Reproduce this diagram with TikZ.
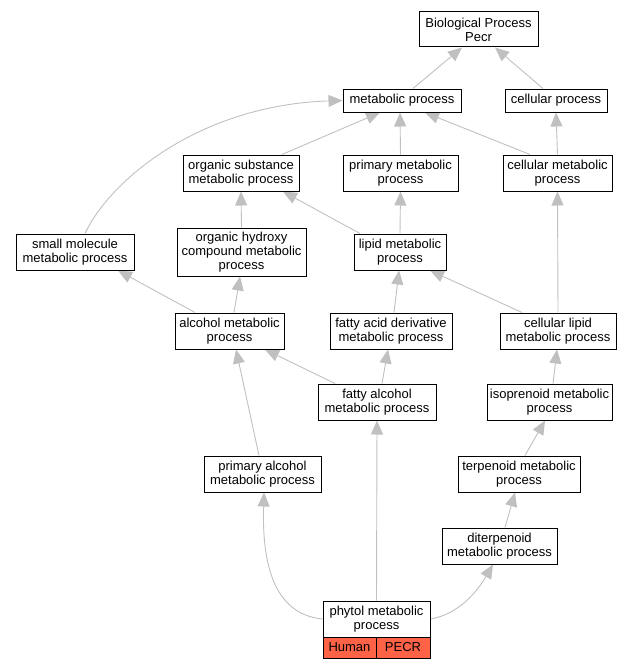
\documentclass[tikz,border=0pt]{standalone}
\usepackage{fontspec}
\setmainfont{Liberation Sans}
\usetikzlibrary{arrows.meta,backgrounds}
\definecolor{edgegray}{HTML}{C0C0C0}
\definecolor{hitred}{HTML}{FF6347}
\tikzset{
  gobox/.style={draw=black, line width=1pt, fill=white, align=center, inner sep=0pt,
    font=\fontsize{13}{14}\selectfont},
  cellbox/.style={draw=black, line width=1pt, fill=hitred, align=center, inner sep=0pt,
    font=\fontsize{13}{14}\selectfont, minimum height=21pt},
  edge/.style={draw=edgegray, line width=0.9pt, -{Triangle[length=14pt,width=12pt,fill=edgegray]}}
}
\begin{document}
\begin{tikzpicture}[x=1pt,y=-1pt]
\useasboundingbox (0,0) rectangle (632,669);
\node[gobox, minimum width=119pt, minimum height=35pt] (bp) at (478.5,29.5) {Biological Process\\Pecr};
\node[gobox, minimum width=118pt, minimum height=23pt] (metab) at (402,100.5) {metabolic process};
\node[gobox, minimum width=102pt, minimum height=23pt] (cellproc) at (556,100.5) {cellular process};
\node[gobox, minimum width=116pt, minimum height=36pt] (orgsub) at (241,173) {organic substance\\metabolic process};
\node[gobox, minimum width=115pt, minimum height=36pt] (primary) at (400.5,173) {primary metabolic\\process};
\node[gobox, minimum width=109pt, minimum height=36pt] (cellmeta) at (557.5,173) {cellular metabolic\\process};
\node[gobox, minimum width=118pt, minimum height=36pt] (small) at (75,252) {small molecule\\metabolic process};
\node[gobox, minimum width=129pt, minimum height=48pt] (orghyd) at (241.5,252) {organic hydroxy\\compound metabolic\\process};
\node[gobox, minimum width=92pt, minimum height=36pt] (lipid) at (400,252) {lipid metabolic\\process};
\node[gobox, minimum width=109pt, minimum height=36pt] (alcohol) at (229.5,331) {alcohol metabolic\\process};
\node[gobox, minimum width=122pt, minimum height=36pt] (fattyacid) at (391,331) {fatty acid derivative\\metabolic process};
\node[gobox, minimum width=116pt, minimum height=36pt] (cellipid) at (558,331) {cellular lipid\\metabolic process};
\node[gobox, minimum width=118pt, minimum height=36pt] (fattyalc) at (377,402) {fatty alcohol\\metabolic process};
\node[gobox, minimum width=125pt, minimum height=36pt] (isopren) at (549.5,402) {isoprenoid metabolic\\process};
\node[gobox, minimum width=117pt, minimum height=36pt] (primalc) at (262.5,474) {primary alcohol\\metabolic process};
\node[gobox, minimum width=122pt, minimum height=36pt] (terpen) at (519,474) {terpenoid metabolic\\process};
\node[gobox, minimum width=115pt, minimum height=36pt] (diterp) at (499.5,546) {diterpenoid\\metabolic process};
\node[gobox, minimum width=107pt, minimum height=36pt] (phytol) at (376.5,619) {phytol metabolic\\process};
\node[cellbox, minimum width=53pt] (human) at (349.5,647.5) {Human};
\node[cellbox, minimum width=54pt] (pecr) at (403,647.5) {PECR};
\begin{scope}[on background layer]
\draw[edge] ([xshift=11pt]metab.north) -- ([xshift=-16.5pt]bp.south);
\draw[edge] ([xshift=-13pt]cellproc.north) -- ([xshift=16.5pt]bp.south);
\draw[edge] ([xshift=41pt]orgsub.north) -- ([xshift=-22pt]metab.south);
\draw[edge] (primary.north) -- ([xshift=-2pt]metab.south);
\draw[edge] ([xshift=-27.5pt]cellmeta.north) -- ([xshift=23pt]metab.south);
\draw[edge] (cellmeta.north) -- (cellproc.south);
\draw[edge] ([xshift=10pt]small.north) .. controls (110,180) and (200,105) .. (metab.west);
\draw[edge] (orghyd.north) -- (orgsub.south);
\draw[edge] ([xshift=-40pt]lipid.north) -- ([xshift=42pt]orgsub.south);
\draw[edge] (lipid.north) -- (primary.south);
\draw[edge] ([xshift=-36pt]cellipid.north) -- ([xshift=30pt]lipid.south);
\draw[edge] (cellipid.north) -- (cellmeta.south);
\draw[edge] ([xshift=-34.5pt]alcohol.north) -- ([xshift=43pt]small.south);
\draw[edge] ([xshift=4.5pt]alcohol.north) -- ([xshift=-1.5pt]orghyd.south);
\draw[edge] ([xshift=3pt]fattyacid.north) -- ([xshift=-1pt]lipid.south);
\draw[edge] ([xshift=-42pt]fattyalc.north) -- ([xshift=35.5pt]alcohol.south);
\draw[edge] ([xshift=5pt]fattyalc.north) -- ([xshift=-3pt]fattyacid.south);
\draw[edge] ([xshift=3.5pt]isopren.north) -- ([xshift=-1pt]cellipid.south);
\draw[edge] ([xshift=-3.5pt]primalc.north) -- ([xshift=6.5pt]alcohol.south);
\draw[edge] ([xshift=6pt]terpen.north) -- ([xshift=-4.5pt]isopren.south);
\draw[edge] ([xshift=5.5pt]diterp.north) -- ([xshift=-4pt]terpen.south);
\draw[edge] (phytol.west) .. controls (272,614) and (262,560) .. ([xshift=1.5pt]primalc.south);
\draw[edge] (phytol.north) -- (fattyalc.south);
\draw[edge] (phytol.east) .. controls (460,614) and (478,590) .. ([xshift=-6.5pt]diterp.south);
\end{scope}
\end{tikzpicture}
\end{document}
